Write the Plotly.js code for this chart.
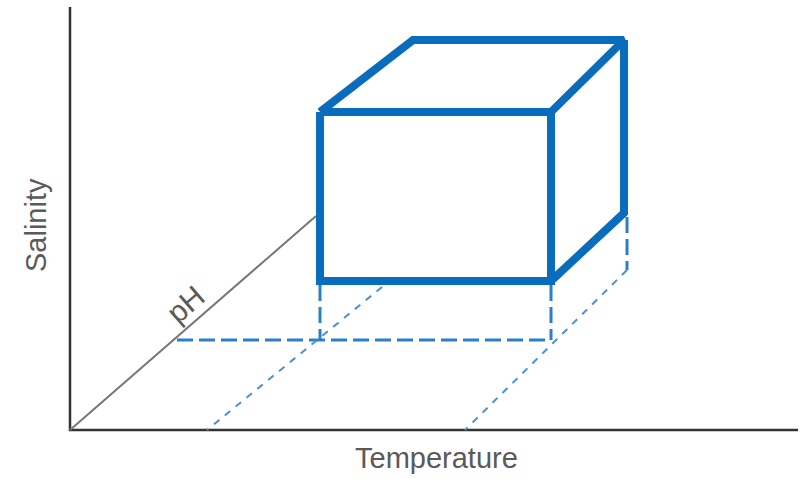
<!DOCTYPE html>
<html><head><meta charset="utf-8">
<script src="https://cdn.plot.ly/plotly-3.0.1.min.js"></script>
<style>html,body{margin:0;padding:0;background:#fff;}#chart{width:804px;height:479px;}</style>
</head><body><div id="chart"></div>
<script>
// Diagram geometry (diagram units; y grows downward)
const axesX = [70, 70, 798];
const axesY = [7, 430, 430];
const phAxisX = [70, 316];
const phAxisY = [430, 216];
const frontFaceX = [320, 551, 551, 320, 320];
const frontFaceY = [112, 112, 281, 281, 112];
const topFaceX = [320, 413, 624, 551];
const topFaceY = [112, 40, 40, 112];
const sideFaceX = [624, 624, 551];
const sideFaceY = [40, 213, 281];
const dropX = [320, 320, null, 551, 551, null, 627, 627, null, 177, 551];
const dropY = [285, 340, null, 285, 340, null, 217, 270, null, 340, 340];
const floorX = [382, 207, null, 627, 465];
const floorY = [287, 430, null, 270, 430];
const labels = ["Salinity", "Temperature", "pH"];

const blue = "#0a6cbc";
const traces = [
  {x: axesX, y: axesY, mode: "lines", line: {color: "#333", width: 2.5}},
  {x: phAxisX, y: phAxisY, mode: "lines", line: {color: "#777", width: 2}},
  {x: dropX, y: dropY, mode: "lines", line: {color: "#2a80c8", width: 3, dash: "16px,6px"}},
  {x: floorX, y: floorY, mode: "lines", line: {color: "#4a90d4", width: 2, dash: "7px,7px"}},
  {x: frontFaceX, y: frontFaceY, mode: "lines", line: {color: blue, width: 8}},
  {x: topFaceX, y: topFaceY, mode: "lines", line: {color: blue, width: 8}},
  {x: sideFaceX, y: sideFaceY, mode: "lines", line: {color: blue, width: 8}}
];
traces.forEach(t => { t.hoverinfo = "skip"; t.showlegend = false; t.type = "scatter"; });

const font = {family: "Liberation Sans, Arial, sans-serif", color: "#5a5a5a"};
const layout = {
  width: 804, height: 479,
  margin: {l: 0, r: 0, t: 0, b: 0},
  paper_bgcolor: "#fff", plot_bgcolor: "#fff",
  xaxis: {range: [0, 804], visible: false, fixedrange: true},
  yaxis: {range: [479, 0], visible: false, fixedrange: true},
  showlegend: false,
  annotations: [
    {x: 36, y: 225, text: labels[0], showarrow: false, textangle: -90, font: Object.assign({size: 29}, font)},
    {x: 436, y: 458, text: labels[1], showarrow: false, font: Object.assign({size: 29}, font)},
    {x: 185, y: 304, text: labels[2], showarrow: false, textangle: -41, font: Object.assign({size: 30}, font)}
  ]
};
Plotly.newPlot("chart", traces, layout, {staticPlot: true, displayModeBar: false});
</script></body></html>
